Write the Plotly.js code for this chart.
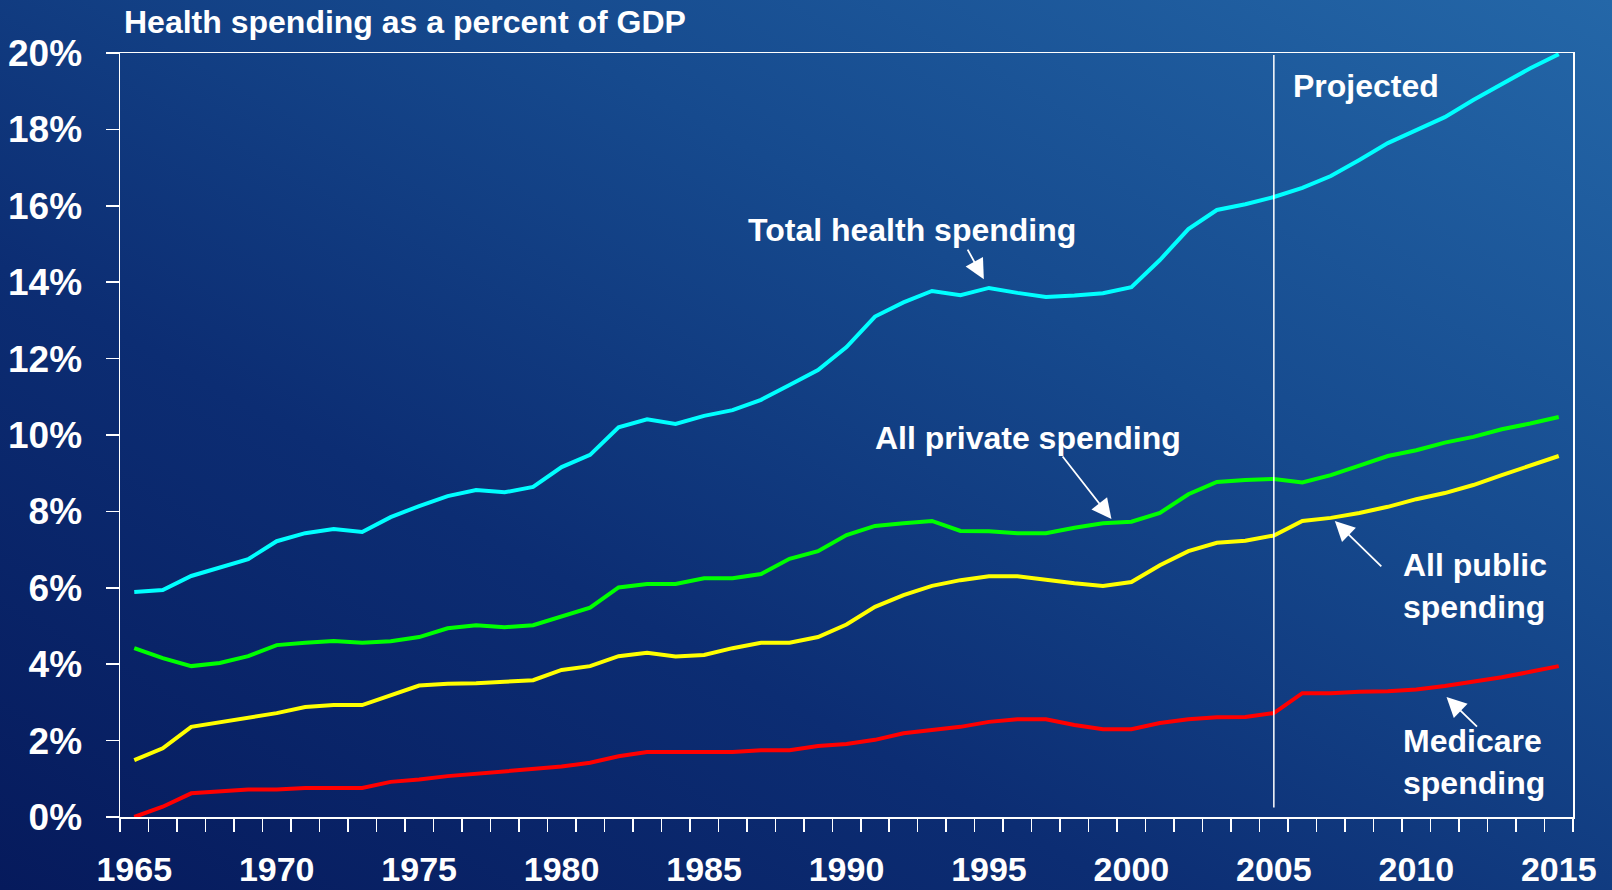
<!DOCTYPE html>
<html>
<head>
<meta charset="utf-8">
<script src="https://cdn.plot.ly/plotly-3.0.1.min.js"></script>
<style>
  html, body { margin: 0; padding: 0; }
  #chart {
    width: 1612px; height: 890px;
    background: linear-gradient(to top right, #061a5c 0%, #0c2d73 35%, #164a8e 65%, #2467a8 100%);
  }
</style>
</head>
<body>
<div id="chart"></div>
<script>
// ---- data (percent of GDP) ----
const years = [1965,1966,1967,1968,1969,1970,1971,1972,1973,1974,1975,1976,1977,1978,1979,1980,1981,1982,1983,1984,1985,1986,1987,1988,1989,1990,1991,1992,1993,1994,1995,1996,1997,1998,1999,2000,2001,2002,2003,2004,2005,2006,2007,2008,2009,2010,2011,2012,2013,2014,2015];

const totalSpending = [5.89,5.94,6.31,6.52,6.75,7.22,7.43,7.54,7.46,7.85,8.14,8.40,8.56,8.50,8.64,9.16,9.48,10.20,10.41,10.29,10.50,10.65,10.92,11.31,11.70,12.30,13.10,13.47,13.77,13.66,13.85,13.72,13.61,13.65,13.71,13.87,14.58,15.39,15.89,16.04,16.23,16.47,16.78,17.20,17.64,17.98,18.32,18.77,19.19,19.60,19.97];

const privateSpending = [4.42,4.16,3.95,4.03,4.21,4.50,4.56,4.61,4.56,4.60,4.71,4.94,5.02,4.97,5.02,5.26,5.48,6.01,6.10,6.10,6.25,6.25,6.36,6.76,6.96,7.38,7.62,7.69,7.75,7.49,7.48,7.43,7.43,7.57,7.69,7.73,7.96,8.45,8.77,8.82,8.85,8.76,8.95,9.20,9.45,9.60,9.80,9.95,10.15,10.30,10.47];

const publicSpending = [1.49,1.80,2.36,2.48,2.58,2.72,2.88,2.93,2.93,3.19,3.44,3.49,3.50,3.54,3.58,3.85,3.95,4.21,4.30,4.20,4.24,4.42,4.56,4.56,4.71,5.04,5.50,5.81,6.05,6.20,6.30,6.30,6.20,6.12,6.05,6.15,6.59,6.96,7.18,7.23,7.37,7.75,7.83,7.96,8.12,8.32,8.48,8.69,8.95,9.20,9.45];

const medicareSpending = [0.00,0.27,0.62,0.66,0.72,0.72,0.76,0.76,0.76,0.92,0.98,1.07,1.13,1.19,1.25,1.32,1.42,1.59,1.70,1.70,1.70,1.70,1.75,1.75,1.86,1.91,2.02,2.19,2.28,2.36,2.49,2.56,2.56,2.41,2.30,2.30,2.46,2.56,2.61,2.62,2.72,3.24,3.24,3.28,3.29,3.34,3.43,3.54,3.66,3.80,3.95];

const yearLabels = [1965,1970,1975,1980,1985,1990,1995,2000,2005,2010,2015];
const yTicks = [0,2,4,6,8,10,12,14,16,18,20];
const projectionStart = 2005;

const seriesNames = ['Total health spending','All private spending','All public spending','Medicare spending'];
const seriesColors = ['#00ffff','#00ff00','#ffff00','#ff0000'];
const seriesValues = [totalSpending, privateSpending, publicSpending, medicareSpending];

// ---- traces ----
const traces = seriesValues.map((vals, i) => ({
  type: 'scatter', mode: 'lines',
  x: years, y: vals, name: seriesNames[i],
  line: {color: seriesColors[i], width: 4},
  hoverinfo: 'x+y'
}));

const FONT = 'Liberation Sans, Arial, Helvetica, sans-serif';
const white = '#ffffff';

function label(text, x, y, xanchor) {
  return {text: text, x: x, y: y, xref: 'x', yref: 'y', showarrow: false,
    xanchor: xanchor || 'center', yanchor: 'middle', align: 'left',
    font: {family: FONT, size: 32, color: white, weight: 'bold'}};
}
function arrow(x, y, ax, ay) {
  return {text: '', x: x, y: y, xref: 'x', yref: 'y', ax: ax, ay: ay,
    showarrow: true, arrowhead: 2, arrowsize: 2.2, arrowwidth: 1.8, arrowcolor: white, standoff: 0};
}

const annotations = [
  label('Total health spending', 1992.3, 15.37),
  arrow(1994.82, 14.08, -17, -31),
  label('All private spending', 1996.38, 9.92),
  arrow(1999.3, 7.8, -50, -64),
  label('All public<br>spending', 2009.45, 6.06, 'left'),
  arrow(2007.14, 7.75, 48, 47),
  label('Medicare<br>spending', 2009.45, 1.43, 'left'),
  arrow(2011.06, 3.14, 32, 31),
  label('Projected', 2005.6, 19.14, 'left')
];

const layout = {
  width: 1612, height: 890,
  paper_bgcolor: 'rgba(0,0,0,0)', plot_bgcolor: 'rgba(0,0,0,0)',
  margin: {l: 120, r: 39, t: 53, b: 73},
  showlegend: false,
  title: {text: 'Health spending as a percent of GDP', xref: 'container', yref: 'container',
    x: 124/1612, xanchor: 'left', y: 1 - 22/890, yanchor: 'middle',
    font: {family: FONT, size: 32, color: white, weight: 'bold'}},
  xaxis: {
    range: [1964.5, 2015.5], tickmode: 'array', tickvals: yearLabels,
    ticks: '', showgrid: false, zeroline: false,
    showline: true, linecolor: white, linewidth: 1.5, mirror: true,
    ticklabelstandoff: 22,
    tickfont: {family: FONT, size: 34, color: white, weight: 'bold'},
    minor: {tick0: 1964.5, dtick: 1, ticks: 'outside', ticklen: 13, tickwidth: 1.5, tickcolor: white, showgrid: false}
  },
  yaxis: {
    range: [0, 20], tickmode: 'array', tickvals: yTicks, ticktext: yTicks.map(v => v + '%'),
    ticks: 'outside', ticklen: 13, tickwidth: 1.5, tickcolor: white,
    showgrid: false, zeroline: false,
    showline: true, linecolor: white, linewidth: 1.5, mirror: true,
    ticklabelstandoff: 16,
    tickfont: {family: FONT, size: 37, color: white, weight: 'bold'}
  },
  shapes: [{type: 'line', xref: 'x', yref: 'y', x0: projectionStart, x1: projectionStart, y0: 0.25, y1: 19.95,
    line: {color: white, width: 1.5}}],
  annotations: annotations
};

Plotly.newPlot('chart', traces, layout, {displayModeBar: false, staticPlot: true});
</script>
</body>
</html>
